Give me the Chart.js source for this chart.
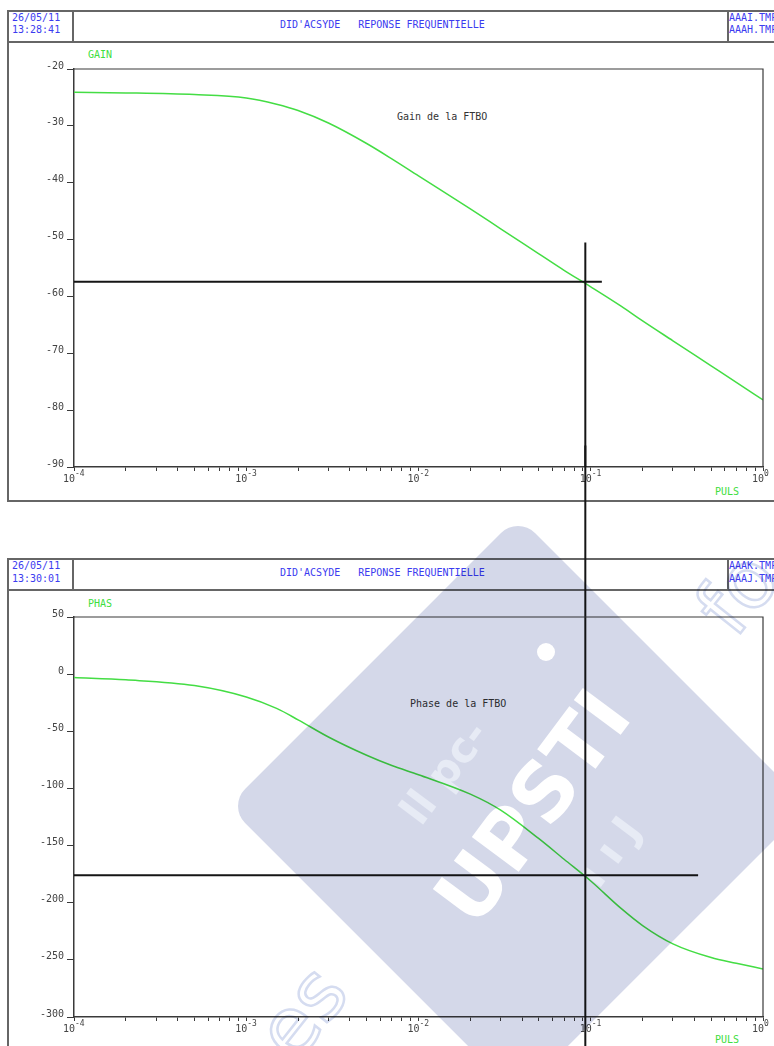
<!DOCTYPE html>
<html>
<head>
<meta charset="utf-8">
<title>Réponse fréquentielle</title>
<script src="https://cdn.jsdelivr.net/npm/chart.js@4.4.1/dist/chart.umd.min.js"></script>
<style>
    body {
        margin: 0;
        width: 774px;
        height: 1046px;
        overflow: hidden;
        position: relative;
        background: #fff;
        font-family: "DejaVu Sans Mono", monospace;
    }
    .line { position: absolute; background: #666; }
    .txt { position: absolute; font-size: 10px; line-height: 12px; white-space: pre; }
    .blue { color: #3c3cf0; }
    .green { color: #3ede3e; }
    .dark { color: #333; }
    canvas { position: absolute; left: 0; top: 0; }
    #mark { mix-blend-mode: multiply; pointer-events: none; }
</style>
</head>
<body>

<!-- cadre du graphe de gain -->
<div class="line" style="left:7px; top:10px; width:767px; height:1.5px"></div>
<div class="line" style="left:7px; top:41px; width:767px; height:1.5px"></div>
<div class="line" style="left:7px; top:500px; width:767px; height:1.5px"></div>
<div class="line" style="left:7px; top:10px; width:1.5px; height:491px"></div>
<div class="line" style="left:72px; top:10px; width:1.5px; height:32px"></div>
<div class="line" style="left:727px; top:10px; width:1.5px; height:32px"></div>
<div class="txt blue" style="left:12px; top:12px">26/05/11</div>
<div class="txt blue" style="left:12px; top:24px">13:28:41</div>
<div class="txt blue" style="left:280px; top:19px">DID'ACSYDE   REPONSE FREQUENTIELLE</div>
<div class="txt blue" style="left:729px; top:12px">AAAI.TMP</div>
<div class="txt blue" style="left:729px; top:24px">AAAH.TMP</div>
<div class="txt green" style="left:88px; top:49px">GAIN</div>
<div class="txt green" style="left:715px; top:486px">PULS</div>
<div class="txt dark" style="left:397px; top:111px">Gain de la FTBO</div>

<!-- cadre du graphe de phase -->
<div class="line" style="left:7px; top:558px; width:767px; height:1.5px"></div>
<div class="line" style="left:7px; top:589px; width:767px; height:1.5px"></div>
<div class="line" style="left:7px; top:558px; width:1.5px; height:488px"></div>
<div class="line" style="left:72px; top:558px; width:1.5px; height:32px"></div>
<div class="line" style="left:727px; top:558px; width:1.5px; height:32px"></div>
<div class="txt blue" style="left:12px; top:560px">26/05/11</div>
<div class="txt blue" style="left:12px; top:573px">13:30:01</div>
<div class="txt blue" style="left:280px; top:567px">DID'ACSYDE   REPONSE FREQUENTIELLE</div>
<div class="txt blue" style="left:729px; top:560px">AAAK.TMP</div>
<div class="txt blue" style="left:729px; top:573px">AAAJ.TMP</div>
<div class="txt green" style="left:88px; top:598px">PHAS</div>
<div class="txt green" style="left:715px; top:1034px">PULS</div>
<div class="txt dark" style="left:410px; top:698px">Phase de la FTBO</div>

<canvas id="gainChart" width="774" height="1046"></canvas>
<canvas id="phaseChart" width="774" height="1046"></canvas>
<canvas id="mark" width="774" height="1046"></canvas>

<script>
'use strict';

// pulsations (rad/s) et points relevés de la FTBO
var pulsations = [1e-4, 2e-4, 5e-4, 1e-3, 1.5e-3, 2e-3, 3e-3, 5e-3, 7e-3, 1e-2,
    2e-2, 3e-2, 5e-2, 7e-2, 0.1, 0.15, 0.2, 0.3, 0.5, 0.7, 1];
var gainDb = [-24.1, -24.2, -24.5, -25.1, -26.2, -27.3, -29.5, -33.1, -35.8, -38.8,
    -44.6, -48.1, -52.5, -55.4, -58.3, -61.7, -64.3, -67.8, -72.2, -75.1, -78.2];
var phaseDeg = [-3, -5, -10, -20, -30, -40, -55, -71, -80, -88,
    -105, -119, -144, -162, -181, -205, -220, -236, -248, -253, -258];

// point de lecture (réticule)
var crossPuls = 0.093;
var crossGain = -57.4;
var crossPhase = -176;
var gainCrossEnd = 0.116;
var phaseCrossEnd = 0.42;
var gainCrossTop = -50.5;

// axes
var pulsRange = [1e-4, 1];
var gainRange = [-90, -20];
var phaseRange = [-300, 50];
var decades = [1e-4, 1e-3, 1e-2, 1e-1, 1];
var decadeExponents = ['-4', '-3', '-2', '-1', '0'];

var GREEN = '#44dd44';
var AXIS = '#3a3a3a';
var MONO = '"DejaVu Sans Mono", monospace';

Chart.defaults.font.family = MONO;
Chart.defaults.font.size = 10;
Chart.defaults.color = '#444';

function toPoints(xs, ys) {
    var pts = [];
    for (var i = 0; i < xs.length; i++) {
        pts.push({x: xs[i], y: ys[i]});
    }
    return pts;
}

// graduations 1..9 de chaque décade
function logTicks(scale) {
    var ticks = [];
    for (var d = 0; d < decades.length; d++) {
        for (var k = 1; k <= 9; k++) {
            var v = decades[d] * k;
            if (v > pulsRange[1] * 1.0001) {
                break;
            }
            ticks.push({value: v});
        }
    }
    scale.ticks = ticks;
}

// cadre haut et droit de la zone de tracé + libellés 10^n
var plotFrame = {
    id: 'plotFrame',
    afterDraw: function (chart) {
        var a = chart.chartArea;
        var ctx = chart.ctx;
        ctx.save();
        ctx.strokeStyle = AXIS;
        ctx.lineWidth = 1.2;
        ctx.beginPath();
        ctx.moveTo(a.left, a.top);
        ctx.lineTo(a.right, a.top);
        ctx.lineTo(a.right, a.bottom);
        ctx.stroke();

        var xs = chart.scales.x;
        ctx.fillStyle = '#444';
        ctx.textBaseline = 'alphabetic';
        for (var i = 0; i < decades.length; i++) {
            var px = xs.getPixelForValue(decades[i]);
            ctx.font = '10px ' + MONO;
            ctx.textAlign = 'right';
            ctx.fillText('10', px + 1, a.bottom + 15);
            ctx.font = '8px ' + MONO;
            ctx.textAlign = 'left';
            ctx.fillText(decadeExponents[i], px + 1, a.bottom + 9);
        }
        ctx.restore();
    }
};

function xScale() {
    return {
        type: 'logarithmic',
        min: pulsRange[0],
        max: pulsRange[1],
        afterBuildTicks: logTicks,
        afterFit: function (s) { s.height = 26; },
        ticks: {
            autoSkip: false,
            maxRotation: 0,
            callback: function () { return ''; }
        },
        grid: {drawOnChartArea: false, tickLength: 4, color: AXIS},
        border: {color: AXIS, width: 1.5}
    };
}

function yScale(range, step) {
    return {
        min: range[0],
        max: range[1],
        afterFit: function (s) { s.width = 60; },
        ticks: {stepSize: step, padding: 3, labelOffset: -3, color: '#444'},
        grid: {drawOnChartArea: false, tickLength: 7, color: AXIS},
        border: {color: AXIS, width: 1.5}
    };
}

function lineSet(points, color, width, clip) {
    return {
        data: points,
        borderColor: color,
        borderWidth: width,
        pointRadius: 0,
        fill: false,
        clip: clip
    };
}

function createGainChart() {
    var curve = lineSet(toPoints(pulsations, gainDb), GREEN, 1.5, undefined);
    curve.cubicInterpolationMode = 'monotone';

    return new Chart(document.getElementById('gainChart'), {
        type: 'line',
        data: {
            datasets: [
                lineSet([{x: pulsRange[0], y: crossGain}, {x: gainCrossEnd, y: crossGain}], '#151515', 2, undefined),
                lineSet([{x: crossPuls, y: gainCrossTop}, {x: crossPuls, y: gainRange[0]}], '#151515', 2, undefined),
                curve
            ]
        },
        options: {
            responsive: false,
            animation: false,
            events: [],
            layout: {autoPadding: false, padding: {left: 14, right: 11, top: 69, bottom: 553}},
            plugins: {legend: {display: false}, tooltip: {enabled: false}},
            scales: {x: xScale(), y: yScale(gainRange, 10)}
        },
        plugins: [plotFrame]
    });
}

function createPhaseChart() {
    var curve = lineSet(toPoints(pulsations, phaseDeg), GREEN, 1.5, undefined);
    curve.cubicInterpolationMode = 'monotone';

    return new Chart(document.getElementById('phaseChart'), {
        type: 'line',
        data: {
            datasets: [
                lineSet([{x: pulsRange[0], y: crossPhase}, {x: phaseCrossEnd, y: crossPhase}], '#151515', 2, undefined),
                // la verticale traverse les deux graphes
                lineSet([{x: crossPuls, y: 200}, {x: crossPuls, y: -330}], '#151515', 2, false),
                curve
            ]
        },
        options: {
            responsive: false,
            animation: false,
            events: [],
            layout: {autoPadding: false, padding: {left: 14, right: 11, top: 617, bottom: 3}},
            plugins: {legend: {display: false}, tooltip: {enabled: false}},
            scales: {x: xScale(), y: yScale(phaseRange, 50)}
        },
        plugins: [plotFrame]
    });
}

// filigrane en surimpression
function drawWatermark() {
    var ctx = document.getElementById('mark').getContext('2d');

    ctx.save();
    ctx.translate(518, 806);
    ctx.rotate(Math.PI / 4);
    ctx.fillStyle = '#d4d8e9';
    ctx.beginPath();
    ctx.roundRect(-205, -205, 410, 410, 24);
    ctx.fill();
    ctx.restore();

    ctx.save();
    ctx.translate(530, 805);
    ctx.rotate(-0.93);
    ctx.fillStyle = '#ffffff';
    ctx.font = 'bold 80px "DejaVu Sans"';
    ctx.textAlign = 'center';
    ctx.textBaseline = 'middle';
    ctx.fillText('UPSTI', 0, 10);
    ctx.fillStyle = '#e7ebf5';
    ctx.font = 'bold 42px "DejaVu Sans"';
    ctx.fillText('ll pc-', -25, -85);
    ctx.fillText('\u0131 \u0131 J', 10, 95);
    ctx.restore();

    ctx.fillStyle = '#ffffff';
    ctx.beginPath();
    ctx.arc(546, 652, 9, 0, Math.PI * 2);
    ctx.fill();

    ctx.save();
    ctx.strokeStyle = '#d5dcf0';
    ctx.lineWidth = 2.5;
    ctx.font = '80px "DejaVu Sans"';
    ctx.translate(735, 640);
    ctx.rotate(-0.9);
    ctx.strokeText('fo', 0, 0);
    ctx.restore();

    ctx.save();
    ctx.strokeStyle = '#d5dcf0';
    ctx.lineWidth = 2.5;
    ctx.font = '80px "DejaVu Sans"';
    ctx.translate(295, 1065);
    ctx.rotate(-0.9);
    ctx.strokeText('es', 0, 0);
    ctx.restore();
}

createGainChart();
createPhaseChart();
drawWatermark();
</script>
</body>
</html>
